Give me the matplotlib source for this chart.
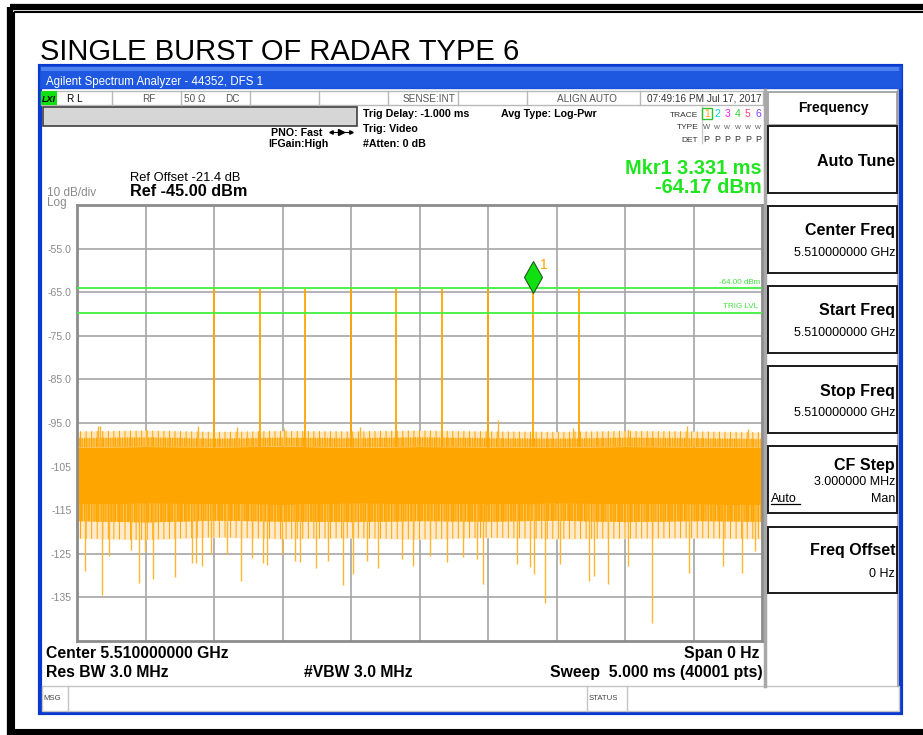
import matplotlib.pyplot as plt
from matplotlib.patches import Rectangle
from matplotlib.transforms import offset_copy

plt.rcParams['font.family'] = ['Liberation Sans', 'DejaVu Sans']
plt.rcParams['hatch.linewidth'] = 0.7
plt.rcParams['hatch.color'] = '#FFA500'

W, H = 923, 735

# ---- values ----
pulse_times = [1.000, 1.333, 1.666, 1.999, 2.332, 2.665, 2.998, 3.331, 3.664]   # ms
pulse_peaks = [-64.2, -64.2, -64.3, -64.1, -64.2, -64.3, -64.2, -64.17, -64.2]   # dBm

env_t = [0.0, 0.5, 1.0, 1.5, 2.0, 2.5, 3.0, 3.5, 4.0, 4.5, 5.0]
core_top = [-100.6, -100.4, -100.5, -100.3, -100.6, -100.4, -100.5, -100.6, -100.4, -100.5, -100.6]
core_bottom = [-113.6, -113.4, -113.5, -113.7, -113.4, -113.5, -113.6, -113.4, -113.5, -113.6, -113.8]
upper_fringe = [-98.4, -98.2, -98.5, -98.3, -98.4, -98.2, -98.4, -98.5, -98.3, -98.4, -98.6]
upper_sparse = [-96.9, -96.7, -97.0, -96.8, -96.9, -96.7, -96.9, -97.0, -96.8, -96.9, -97.1]
lower_fringe = [-117.5, -117.8, -117.4, -117.6, -117.7, -117.5, -117.6, -117.4, -117.7, -117.5, -117.6]
lower_sparse = [-121.5, -121.8, -121.2, -121.6, -121.4, -121.7, -121.3, -121.6, -121.5, -121.4, -121.6]

peak_times = [0.15, 0.17, 0.50, 0.885, 1.166, 1.511, 2.066, 3.07, 3.618, 4.024, 4.45, 4.898]
peak_levels = [-95.6, -95.8, -96.3, -95.6, -95.9, -96.2, -95.9, -94.4, -96.2, -96.4, -95.7, -96.4]

dip_times = [0.058, 0.185, 0.231, 0.392, 0.455, 0.499, 0.555, 0.715, 0.837, 0.866,
             0.915, 0.976, 1.097, 1.195, 1.275, 1.360, 1.385, 1.499, 1.591, 1.628,
             1.742, 1.830, 1.944, 2.017, 2.114, 2.199, 2.370, 2.455, 2.580, 2.700,
             2.820, 2.917, 2.966, 3.214, 3.307, 3.336, 3.416, 3.526, 3.740, 3.774,
             3.879, 4.025, 4.195, 4.467, 4.713, 4.851, 4.949]
dip_levels = [-128.9, -134.4, -125.5, -124.2, -131.6, -124.5, -130.8, -130.3, -127.2, -127.0,
              -127.8, -125.1, -125.1, -131.2, -126.0, -127.0, -127.5, -125.1, -126.6, -126.8,
              -128.3, -126.6, -132.1, -129.7, -126.6, -128.3, -126.2, -127.8, -125.5, -126.8,
              -125.8, -126.2, -132.0, -127.4, -128.1, -129.7, -136.2, -127.4, -131.2, -130.1,
              -132.0, -127.8, -140.8, -129.3, -127.8, -129.3, -124.3]

display_line = -64.0
trig_level = -69.7
marker_time = 3.331
marker_level = -64.17

y_ticks = [-55, -65, -75, -85, -95, -105, -115, -125, -135]
y_labels = ['-55.0', '-65.0', '-75.0', '-85.0', '-95.0', '-105', '-115', '-125', '-135']
x_grid = [0.5, 1.0, 1.5, 2.0, 2.5, 3.0, 3.5, 4.0, 4.5]

trace_nums = ['1', '2', '3', '4', '5', '6']
trace_cols = ['#FFA500', '#00D8E0', '#FF20FF', '#30D030', '#FF4070', '#7A40FF']

ORANGE = '#FFA500'
GREEN = '#1FE51F'

fig = plt.figure(figsize=(W / 100, H / 100), dpi=100)
bg = fig.add_axes([0, 0, 1, 1])
bg.set_xlim(0, W)
bg.set_ylim(H, 0)
bg.axis('off')


def rect(x, y, w, h, fc='none', ec='none', lw=1.0, z=1):
    bg.add_patch(Rectangle((x, y), w, h, facecolor=fc, edgecolor=ec, linewidth=lw, zorder=z))


def txt(x, y, s, size, color='black', ha='left', weight='normal', **kw):
    bg.text(x, y, s, fontsize=size, color=color, ha=ha, va='baseline', fontweight=weight, **kw)


# outer document frame
rect(9.5, 6.5, W, 727, ec='black', lw=4.5)
rect(14, 12.3, W, 718, ec='black', lw=1.5)

txt(40, 60, 'SINGLE BURST OF RADAR TYPE 6', 21)

# analyzer window
rect(39.5, 66, 861, 646.5, fc='white', ec='#0838D0', lw=3, z=2)
rect(39.5, 66, 861, 22, fc='#1E58E0', ec='#1A4FD8', lw=1, z=3)
rect(41, 67, 858, 4, fc='#4C82F0', z=3)
txt(46, 84.5, 'Agilent Spectrum Analyzer - 44352, DFS 1', 8.3, color='white', zorder=4)

# status row
rect(41, 90.5, 722, 14, fc='white', ec='#B8B8B8', lw=1, z=3)
for sx in [111.7, 180.7, 250, 319, 388.3, 457.7, 527.3, 640]:
    bg.plot([sx, sx], [90.5, 104.5], color='#B8B8B8', lw=1, zorder=4)
rect(40.5, 91, 16, 13.5, fc='#10E010', z=4)
txt(42, 101.5, 'LXI', 6.5, weight='bold', style='italic', zorder=5)
txt(67, 101.5, 'R L', 7.2, zorder=5)
txt(148.5, 101.5, 'RF', 7.2, color='#555555', ha='center', zorder=5)
txt(184, 101.5, '50 Ω', 7.2, color='#555555', zorder=5)
txt(225, 101.5, 'DC', 7.2, color='#555555', zorder=5)
txt(455, 101.5, 'SENSE:INT', 7.2, color='#555555', ha='right', zorder=5)
txt(586.5, 101.5, 'ALIGN AUTO', 7.2, color='#555555', ha='center', zorder=5)
txt(761.5, 101.5, '07:49:16 PM Jul 17, 2017', 7.2, color='#333333', ha='right', zorder=5)

# gray progress bar
rect(43, 107, 314, 18.5, fc='#D6D6D6', ec='#404040', lw=1.2, z=3)

txt(322.7, 136, 'PNO: Fast', 7.7, weight='bold', ha='right', zorder=5)
bg.plot([331, 351], [132, 132], color='black', lw=0.8, zorder=5)
bg.plot([341], [132], marker='>', ms=4, color='black', zorder=5)
bg.plot([331], [132], marker='<', ms=2.5, color='black', zorder=5)
bg.plot([351], [132], marker='>', ms=2.5, color='black', zorder=5)
txt(328.3, 146.5, 'IFGain:High', 7.7, weight='bold', ha='right', zorder=5)
txt(363, 116.7, 'Trig Delay: -1.000 ms', 7.7, weight='bold', zorder=5)
txt(363, 131.7, 'Trig: Video', 7.7, weight='bold', zorder=5)
txt(363, 146.7, '#Atten: 0 dB', 7.7, weight='bold', zorder=5)
txt(500.7, 116.7, 'Avg Type: Log-Pwr', 7.7, weight='bold', zorder=5)

# trace table
txt(698.3, 116.5, 'TRACE', 6, ha='right', color='#333333', zorder=5)
txt(698.3, 129, 'TYPE', 6, ha='right', color='#333333', zorder=5)
txt(698.3, 141.5, 'DET', 6, ha='right', color='#333333', zorder=5)
bg.plot([702, 702], [106, 143], color='#C8C8C8', lw=1, zorder=4)
rect(702, 107.7, 10, 11.6, ec='#30C030', lw=1, z=5)
for i, (n, c) in enumerate(zip(trace_nums, trace_cols)):
    tx = 706.7 + i * 10.3
    txt(tx, 117, n, 7.5, color=c, ha='center', zorder=6)
    txt(tx, 129, 'W', 5.5 if i == 0 else 4.5, color='#555555', ha='center', zorder=6)
    txt(tx, 141.5, 'P', 6.5, color='#333333', ha='center', zorder=6)

# reference / marker readouts
txt(129.5, 180.7, 'Ref Offset -21.4 dB', 9.3, zorder=5)
txt(129.5, 196, 'Ref -45.00 dBm', 11.7, weight='bold', zorder=5)
txt(46.7, 195.5, '10 dB/div', 8.5, color='#8A8A8A', zorder=5)
txt(46.7, 206, 'Log', 8.5, color='#8A8A8A', zorder=5)
txt(761.7, 174.3, 'Mkr1 3.331 ms', 14.4, color=GREEN, weight='bold', ha='right', zorder=5)
txt(761.7, 192.5, '-64.17 dBm', 14.4, color=GREEN, weight='bold', ha='right', zorder=5)

# bottom annotations
txt(45.7, 657.7, 'Center 5.510000000 GHz', 11.3, weight='bold', zorder=5)
txt(45.7, 676.7, 'Res BW 3.0 MHz', 11.3, weight='bold', zorder=5)
txt(304, 676.7, '#VBW 3.0 MHz', 11.3, weight='bold', zorder=5)
txt(759.3, 657.7, 'Span 0 Hz', 11.3, weight='bold', ha='right', zorder=5)
txt(762.3, 676.7, 'Sweep  5.000 ms (40001 pts)', 11.3, weight='bold', ha='right', zorder=5)

# message bar
rect(41.5, 686, 857.5, 24.5, fc='white', ec='#C4C4C4', lw=1, z=3)
for sx in [68.3, 586.7, 626.7]:
    bg.plot([sx, sx], [686, 710.5], color='#C4C4C4', lw=1, zorder=4)
txt(43, 700, 'MSG', 5.6, color='#444444', zorder=5)
txt(589, 700, 'STATUS', 5.6, color='#444444', zorder=5)

# softkey panel
bg.plot([765, 765], [90, 686], color='#A8A8A8', lw=2.5, zorder=3)
bg.plot([898, 898], [90, 686], color='#A8A8A8', lw=1.5, zorder=3)
rect(768, 92, 129, 33, fc='white', ec='#9A9A9A', lw=1.2, z=4)
txt(833.5, 112.3, 'Frequency', 10, weight='bold', ha='center', zorder=5)
keys = [(125.7, 193.3), (206, 273.3), (286, 353), (366, 433), (446, 513), (526.7, 593.3)]
for top, bot in keys:
    rect(768, top, 129, bot - top, fc='white', ec='#1A1A1A', lw=1.4, z=4)
txt(895, 166, 'Auto Tune', 11.5, weight='bold', ha='right', zorder=5)
txt(895, 235, 'Center Freq', 11.5, weight='bold', ha='right', zorder=5)
txt(895, 255.7, '5.510000000 GHz', 9, ha='right', zorder=5)
txt(895, 315, 'Start Freq', 11.5, weight='bold', ha='right', zorder=5)
txt(895, 335.7, '5.510000000 GHz', 9, ha='right', zorder=5)
txt(895, 395.7, 'Stop Freq', 11.5, weight='bold', ha='right', zorder=5)
txt(895, 415.7, '5.510000000 GHz', 9, ha='right', zorder=5)
txt(895, 470, 'CF Step', 11.5, weight='bold', ha='right', zorder=5)
txt(895, 485, '3.000000 MHz', 9, ha='right', zorder=5)
txt(771, 501.7, 'Auto', 9, zorder=5)
bg.plot([771, 800], [503.5, 503.5], color='black', lw=0.9, zorder=5)
txt(895, 501.7, 'Man', 9, ha='right', zorder=5)
txt(895, 555, 'Freq Offset', 11.5, weight='bold', ha='right', zorder=5)
txt(895, 576.7, '0 Hz', 9, ha='right', zorder=5)

# ---- measurement graticule ----
ax = fig.add_axes([77 / W, 1 - 641 / H, 685 / W, 436 / H])
ax.set_xlim(0, 5)
ax.set_ylim(-145, -45)
ax.set_facecolor('white')
for s in ax.spines.values():
    s.set_color('#8C8C8C')
    s.set_linewidth(2.0)
ax.set_xticks(x_grid)
ax.set_xticklabels([])
ax.set_yticks(y_ticks)
ax.set_yticklabels(y_labels, fontsize=7.6, color='#8A8A8A')
ax.tick_params(length=0, pad=4)
ax.grid(True, color='#A6A6A6', lw=1.2, zorder=0.5)
ax.set_axisbelow(True)

# noise floor: solid core, dense fringes, sparse outer fringes
ax.fill_between(env_t, core_bottom, core_top, color=ORANGE, lw=0, zorder=2)
ax.fill_between(env_t, core_top, upper_fringe, color='#FFC65E', lw=0, zorder=1.9)
ax.fill_between(env_t, upper_fringe, upper_sparse, color='#FFE7BD', lw=0, zorder=1.9)
ax.fill_between(env_t, lower_fringe, core_bottom, color='#FFC65E', lw=0, zorder=1.9)
ax.fill_between(env_t, lower_sparse, lower_fringe, color='#FFEACB', lw=0, zorder=1.9)
for band_lo, band_hi, pat in [(core_top, upper_fringe, '|||||||'), (core_top, upper_sparse, '|||'),
                              (lower_fringe, core_bottom, '|||||||'), (lower_fringe, core_bottom, '|||||'),
                              (lower_sparse, core_bottom, '|||')]:
    ax.fill_between(env_t, band_lo, band_hi, facecolor='none', edgecolor=ORANGE,
                    hatch=pat, lw=0, zorder=2)
ax.vlines(peak_times, -100.5, peak_levels, color='#FFB52E', lw=1.0, zorder=2.2)
ax.vlines(dip_times, -113.5, dip_levels, color='#FFB52E', lw=1.0, zorder=2.2)

# radar pulses
ax.vlines(pulse_times, -100.5, pulse_peaks, color=ORANGE, lw=1.3, zorder=2.5)

# display line and trigger level
ax.axhline(display_line, color='#40F040', lw=1.3, zorder=3)
ax.axhline(trig_level, color='#40F040', lw=1.3, zorder=3)
ax.text(4.985, display_line + 0.5, '-64.00 dBm', fontsize=5.8, color='#40E040',
        ha='right', va='bottom', zorder=4)
ax.text(4.97, trig_level + 0.6, 'TRIG LVL', fontsize=5.8, color='#40E040',
        ha='right', va='bottom', zorder=4)

# marker 1
mk_tr = offset_copy(ax.transData, fig=fig, x=0, y=8.0, units='points')
ax.plot([marker_time], [marker_level], marker='d', ms=16, color='#10E010',
        mec='#1E5A1E', mew=0.8, transform=mk_tr, zorder=5)
ax.annotate('1', (marker_time, marker_level), xytext=(5, 14), textcoords='offset points',
            fontsize=10, color=ORANGE, zorder=5)

fig.savefig('out.png', dpi=100)
